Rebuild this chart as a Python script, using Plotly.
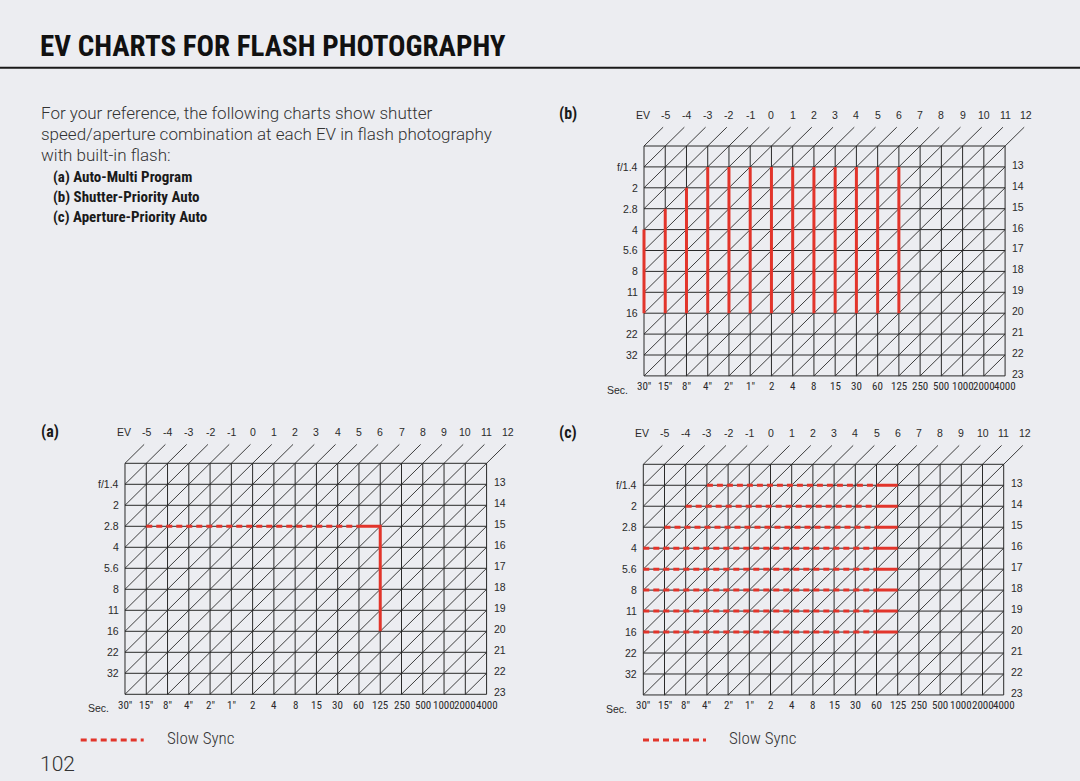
import plotly.graph_objects as go

W, H = 1080, 781
BG = "#ecedf1"
INK = "#2a2a2a"
RED = "#e2352b"
NARROW = "Roboto Condensed, Liberation Sans Narrow, Liberation Sans, Arial, sans-serif"
SANS = "Liberation Sans, Arial, Helvetica, sans-serif"
LIGHT = "Roboto, Liberation Sans, Arial, sans-serif"

# ---------------- data ----------------
shutter_labels = ['30"', '15"', '8"', '4"', '2"', '1"', '2', '4', '8', '15', '30',
                  '60', '125', '250', '500', '1000', '2000', '4000']
aperture_labels = ['', 'f/1.4', '2', '2.8', '4', '5.6', '8', '11', '16', '22', '32', '']
ev_top = [-5, -4, -3, -2, -1, 0, 1, 2, 3, 4, 5, 6, 7, 8, 9, 10, 11, 12]
ev_right = [13, 14, 15, 16, 17, 18, 19, 20, 21, 22, 23]

# (a) Auto-Multi Program
a_slow_aperture = '2.8'
a_slow_from = '15"'
a_slow_to = '60'
a_sync = '125'
a_flash_top = '2.8'
a_flash_bottom = '16'

# (b) Shutter-Priority Auto
b_shutters = ['30"', '15"', '8"', '4"', '2"', '1"', '2', '4', '8', '15', '30', '60', '125']
b_top_aperture = ['4', '2.8', '2', 'f/1.4', 'f/1.4', 'f/1.4', 'f/1.4', 'f/1.4',
                  'f/1.4', 'f/1.4', 'f/1.4', 'f/1.4', 'f/1.4']
b_bottom_aperture = '16'

# (c) Aperture-Priority Auto
c_apertures = ['f/1.4', '2', '2.8', '4', '5.6', '8', '11', '16']
c_slow_from = ['4"', '8"', '15"', '30"', '30"', '30"', '30"', '30"']
c_slow_to = '60'
c_sync = '125'

# ---------------- layout geometry (pixels) ----------------
charts = {
    "a": dict(left=125.0, top=463.3, cw=21.27, ch=21.0, ax=""),
    "b": dict(left=644.0, top=146.0, cw=21.24, ch=20.9, ax="2"),
    "c": dict(left=643.3, top=464.3, cw=21.2, ch=20.97, ax="3"),
}
XR = (-4.2, 19.8)
YR = (-2.6, 12.6)

ncols = len(shutter_labels) - 1
nrows = len(aperture_labels) - 1


def sx(lbl):
    return shutter_labels.index(lbl)


def ay(lbl):
    return aperture_labels.index(lbl)


fig = go.Figure()
annotations = []
layout_axes = {}

for key, g in charts.items():
    ax = g["ax"]
    xname, yname = "x" + ax, "y" + ax
    px0 = g["left"] + XR[0] * g["cw"]
    px1 = g["left"] + XR[1] * g["cw"]
    py0 = g["top"] + YR[0] * g["ch"]
    py1 = g["top"] + YR[1] * g["ch"]
    layout_axes["xaxis" + ax] = dict(domain=[px0 / W, px1 / W], range=list(XR), visible=False,
                                     fixedrange=True, anchor=yname)
    layout_axes["yaxis" + ax] = dict(domain=[1 - py1 / H, 1 - py0 / H], range=[YR[1], YR[0]],
                                     visible=False, fixedrange=True, anchor=xname)

    # rectangular grid
    gx, gy = [], []
    for j in range(nrows + 1):
        gx += [0, ncols, None]
        gy += [j, j, None]
    for i in range(ncols + 1):
        gx += [i, i, None]
        gy += [0, nrows, None]
    fig.add_trace(go.Scatter(x=gx, y=gy, mode="lines", line=dict(color=INK, width=1),
                             hoverinfo="skip", showlegend=False, xaxis=xname, yaxis=yname))
    # EV diagonals
    dx, dy = [], []
    ext = 0.9
    for k in range(0, ncols + nrows + 1):
        x0 = max(0, k - nrows)
        y0 = k - x0
        if k <= ncols:
            x1, y1 = k + ext, -ext
        else:
            x1, y1 = ncols, k - ncols
        dx += [x0, x1, None]
        dy += [y0, y1, None]
    fig.add_trace(go.Scatter(x=dx, y=dy, mode="lines", line=dict(color=INK, width=0.9),
                             hoverinfo="skip", showlegend=False, xaxis=xname, yaxis=yname))

    lf = dict(family=SANS, size=10.5, color=INK)
    sf = dict(family=NARROW, size=11, color=INK)
    # EV labels along top
    annotations.append(dict(text="EV", x=-0.05, y=-1.48, xref=xname, yref=yname,
                            showarrow=False, xanchor="center", yanchor="middle", font=lf))
    for n, ev in enumerate(ev_top):
        annotations.append(dict(text=str(ev), x=n + 1, y=-1.48, xref=xname, yref=yname,
                                showarrow=False, xanchor="center", yanchor="middle", font=lf))
    # EV labels along right
    for n, ev in enumerate(ev_right):
        annotations.append(dict(text=str(ev), x=ncols + 0.25, y=n + 1 - 0.1, xref=xname, yref=yname,
                                showarrow=False, xanchor="left", yanchor="middle", font=lf))
    # aperture labels
    for j, lbl in enumerate(aperture_labels):
        if lbl:
            annotations.append(dict(text=lbl, x=-0.2, y=j, xref=xname, yref=yname,
                                    showarrow=False, xanchor="right", yanchor="middle", font=lf))
    # shutter labels
    for i, lbl in enumerate(shutter_labels):
        annotations.append(dict(text=lbl, x=i, y=nrows + 0.52, xref=xname, yref=yname,
                                showarrow=False, xanchor="center", yanchor="middle",
                                font=sf, borderpad=0))
    annotations.append(dict(text="Sec.", x=-1.25, y=nrows + 0.66, xref=xname, yref=yname,
                            showarrow=False, xanchor="center", yanchor="middle", font=lf))

DASH = "6px,4px"

# ----- chart (a) -----
ya = ay(a_slow_aperture)
fig.add_trace(go.Scatter(x=[sx(a_slow_from), sx(a_slow_to)], y=[ya, ya], mode="lines",
                         line=dict(color=RED, width=3, dash=DASH), showlegend=False,
                         xaxis="x", yaxis="y"))
fig.add_trace(go.Scatter(x=[sx(a_slow_to), sx(a_sync), sx(a_sync)],
                         y=[ya, ya, ay(a_flash_bottom)], mode="lines",
                         line=dict(color=RED, width=3), showlegend=False,
                         xaxis="x", yaxis="y"))

# ----- chart (b) -----
bx, by = [], []
for s, top in zip(b_shutters, b_top_aperture):
    bx += [sx(s), sx(s), None]
    by += [ay(top), ay(b_bottom_aperture), None]
fig.add_trace(go.Scatter(x=bx, y=by, mode="lines", line=dict(color=RED, width=3),
                         showlegend=False, xaxis="x2", yaxis="y2"))

# ----- chart (c) -----
cdx, cdy, csx, csy = [], [], [], []
for ap, s0 in zip(c_apertures, c_slow_from):
    j = ay(ap)
    cdx += [sx(s0), sx(c_slow_to), None]
    cdy += [j, j, None]
    csx += [sx(c_slow_to), sx(c_sync), None]
    csy += [j, j, None]
fig.add_trace(go.Scatter(x=cdx, y=cdy, mode="lines", line=dict(color=RED, width=3, dash=DASH),
                         showlegend=False, xaxis="x3", yaxis="y3"))
fig.add_trace(go.Scatter(x=csx, y=csy, mode="lines", line=dict(color=RED, width=3),
                         showlegend=False, xaxis="x3", yaxis="y3"))

# ---------------- page text ----------------
def P(px, py):
    return px / W, 1 - py / H


def ptext(text, px, py, size, family, color="#222", xanchor="left", weight="normal"):
    x, y = P(px, py)
    annotations.append(dict(text=text, x=x, y=y, xref="paper", yref="paper", showarrow=False,
                            xanchor=xanchor, yanchor="middle",
                            font=dict(family=family, size=size, color=color, weight=weight)))


ptext("<b>EV CHARTS FOR FLASH PHOTOGRAPHY</b>", 38, 46, 29, NARROW, "#111")
body = ["For your reference, the following charts show shutter",
        "speed/aperture combination at each EV in flash photography",
        "with built-in flash:"]
for n, line in enumerate(body):
    ptext(line, 39, 113 + 21.2 * n, 17, LIGHT, "#333", weight=300)
items = ["(a) Auto-Multi Program", "(b) Shutter-Priority Auto", "(c) Aperture-Priority Auto"]
for n, line in enumerate(items):
    ptext("<b>" + line + "</b>", 51, 176.5 + 20 * n, 15, NARROW, "#1a1a1a")

ptext("<b>(a)</b>", 39, 431, 16, NARROW, "#1a1a1a")
ptext("<b>(b)</b>", 557, 113, 16, NARROW, "#1a1a1a")
ptext("<b>(c)</b>", 557, 432, 16, NARROW, "#1a1a1a")

ptext("Slow Sync", 165, 738, 17, NARROW, "#333", weight=300)
ptext("Slow Sync", 727, 738, 17, NARROW, "#333", weight=300)
ptext("102", 38, 764, 21, LIGHT, "#333", weight=300)

shapes = [
    dict(type="line", xref="paper", yref="paper", x0=0, x1=1, y0=1 - 67.7 / H, y1=1 - 67.7 / H,
         line=dict(color="#1a1a1a", width=2)),
]
for x0 in (80.7, 643.0):
    shapes.append(dict(type="line", xref="paper", yref="paper", x0=x0 / W, x1=(x0 + 63) / W,
                       y0=1 - 740 / H, y1=1 - 740 / H,
                       line=dict(color=RED, width=3, dash=DASH)))

fig.update_layout(
    width=W, height=H, autosize=False,
    margin=dict(l=0, r=0, t=0, b=0),
    paper_bgcolor=BG, plot_bgcolor="rgba(0,0,0,0)",
    showlegend=False,
    annotations=annotations,
    shapes=shapes,
    **layout_axes,
)

fig.write_html("out.html", config={"displayModeBar": False})
